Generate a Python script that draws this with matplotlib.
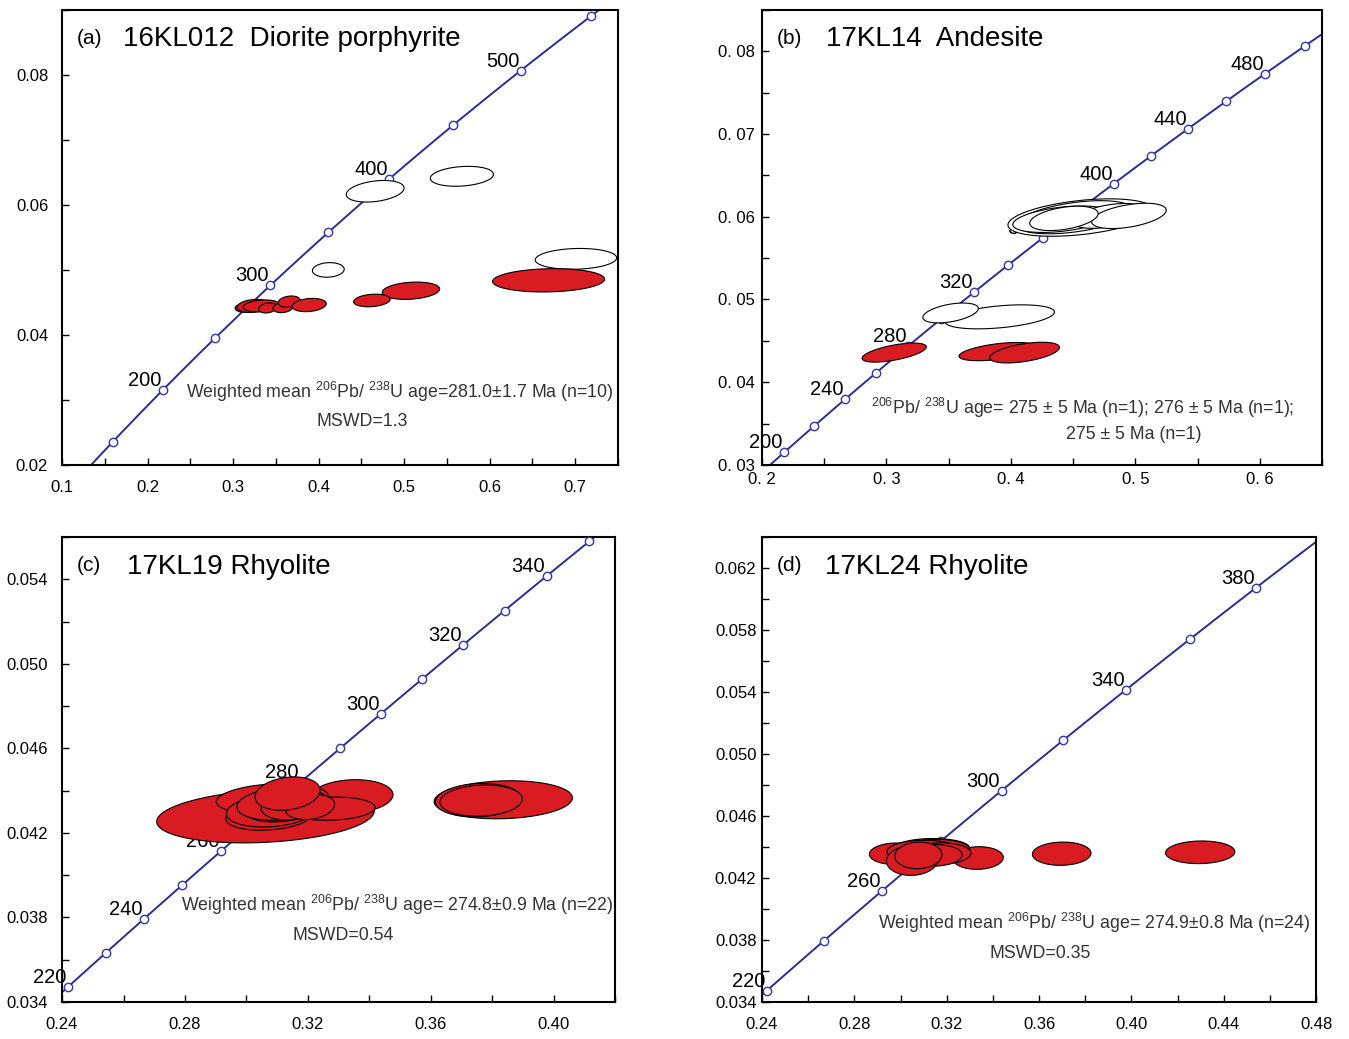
import numpy as np
import matplotlib
matplotlib.use("Agg")
import matplotlib.pyplot as plt
from matplotlib.ticker import MultipleLocator
from matplotlib.patches import Polygon

plt.rcParams['font.family'] = ['Liberation Sans', 'DejaVu Sans']
plt.rcParams['mathtext.default'] = 'regular'

# decay constants (per Ma) for the concordia curve
LAM238 = 1.55125e-4
LAM235 = 9.8485e-4

# ---- panel (a) 16KL012 ----
a_marks = [150, 200, 250, 300, 350, 400, 450, 500, 550]
a_labels = [200, 300, 400, 500]
a_xt = [0.1, 0.2, 0.3, 0.4, 0.5, 0.6, 0.7]
a_xtl = ['0.1', '0.2', '0.3', '0.4', '0.5', '0.6', '0.7']
a_yt = [0.02, 0.04, 0.06, 0.08]
a_ytl = ['0.02', '0.04', '0.06', '0.08']
a_cx = [0.4662, 0.5676, 0.4114, 0.701, 0.669, 0.508, 0.4624, 0.3167, 0.3238, 0.3333, 0.3405, 0.3586, 0.3657, 0.389]
a_cy = [0.0621, 0.0644, 0.0500, 0.0517, 0.0484, 0.0468, 0.0453, 0.04425, 0.04446, 0.04446, 0.04415, 0.04425, 0.04512, 0.0446]
a_sx = [0.0338, 0.0369, 0.0186, 0.0476, 0.0655, 0.0336, 0.0214, 0.0143, 0.019, 0.0214, 0.0105, 0.0119, 0.0129, 0.020]
a_sy = [0.00166, 0.00153, 0.00112, 0.0016, 0.00179, 0.00133, 0.00097, 0.00077, 0.001, 0.00092, 0.00077, 0.00082, 0.00087, 0.00102]
a_rho = [0.3, 0.2, 0.1, 0.1, 0.1, 0.2, 0.2, 0.2, 0.2, 0.2, 0.2, 0.2, 0.2, 0.2]
a_fill = [0, 0, 0, 0, 1, 1, 1, 1, 1, 1, 1, 1, 1, 1]

# ---- panel (b) 17KL14 ----
b_marks = [200, 220, 240, 260, 280, 300, 320, 340, 360, 380, 400, 420, 440, 460, 480, 500]
b_labels = [200, 240, 280, 320, 360, 400, 440, 480]
b_xt = [0.2, 0.3, 0.4, 0.5, 0.6]
b_xtl = ['0. 2', '0. 3', '0. 4', '0. 5', '0. 6']
b_yt = [0.03, 0.04, 0.05, 0.06, 0.07, 0.08]
b_ytl = ['0. 03', '0. 04', '0. 05', '0. 06', '0. 07', '0. 08']
b_cx = [0.3062, 0.3893, 0.411, 0.391, 0.3515, 0.456, 0.4512, 0.441, 0.4787, 0.4948, 0.4426]
b_cy = [0.04358, 0.0437, 0.04358, 0.0479, 0.04837, 0.0599, 0.05994, 0.0597, 0.0601, 0.0601, 0.0598]
b_sx = [0.0258, 0.031, 0.028, 0.044, 0.0223, 0.0584, 0.0464, 0.0395, 0.0292, 0.030, 0.0275]
b_sy = [0.00115, 0.0011, 0.00125, 0.00145, 0.0012, 0.00226, 0.002, 0.0016, 0.0015, 0.00153, 0.00147]
b_rho = [0.6, 0.5, 0.5, 0.4, 0.45, 0.4, 0.45, 0.4, 0.45, 0.45, 0.4]
b_fill = [1, 1, 1, 0, 0, 0, 0, 0, 0, 0, 0]

# ---- panel (c) 17KL19 ----
c_marks = [220, 230, 240, 250, 260, 270, 280, 290, 300, 310, 320, 330, 340, 350]
c_labels = [220, 240, 260, 280, 300, 320, 340]
c_xt = [0.24, 0.28, 0.32, 0.36, 0.40]
c_xtl = ['0.24', '0.28', '0.32', '0.36', '0.40']
c_yt = [0.034, 0.038, 0.042, 0.046, 0.050, 0.054]
c_ytl = ['0.034', '0.038', '0.042', '0.046', '0.050', '0.054']
c_cx = [0.3062, 0.3836, 0.3755, 0.3764, 0.3342, 0.3273, 0.3081, 0.3075, 0.3084, 0.3115, 0.3128, 0.3141, 0.3115, 0.3154, 0.3207, 0.3134]
c_cy = [0.04279, 0.04357, 0.04355, 0.04353, 0.04373, 0.04315, 0.04362, 0.0428, 0.04307, 0.04335, 0.04347, 0.04357, 0.04339, 0.04331, 0.04323, 0.04386]
c_sx = [0.0354, 0.0225, 0.014, 0.0134, 0.0135, 0.0146, 0.0179, 0.0142, 0.0149, 0.0132, 0.0136, 0.0126, 0.0146, 0.0106, 0.008, 0.0106]
c_sy = [0.00126, 0.0009, 0.00079, 0.00074, 0.00079, 0.00055, 0.00071, 0.00067, 0.00079, 0.00083, 0.00075, 0.0007, 0.00079, 0.0007, 0.0006, 0.00079]
c_rho = [0.2, 0.1, 0.1, 0.1, 0.1, 0.1, 0.2, 0.2, 0.2, 0.2, 0.2, 0.2, 0.2, 0.2, 0.2, 0.2]

# ---- panel (d) 17KL24 ----
d_marks = [220, 240, 260, 280, 300, 320, 340, 360, 380, 400]
d_labels = [220, 260, 300, 340, 380]
d_xt = [0.24, 0.28, 0.32, 0.36, 0.40, 0.44, 0.48]
d_xtl = ['0.24', '0.28', '0.32', '0.36', '0.40', '0.44', '0.48']
d_yt = [0.034, 0.038, 0.042, 0.046, 0.050, 0.054, 0.058, 0.062]
d_ytl = ['0.034', '0.038', '0.042', '0.046', '0.050', '0.054', '0.058', '0.062']
d_cx = [0.4298, 0.3698, 0.3336, 0.2976, 0.3133, 0.3151, 0.3114, 0.3096, 0.317, 0.3142, 0.305, 0.3077]
d_cy = [0.04366, 0.04357, 0.04329, 0.04357, 0.0439, 0.04379, 0.04368, 0.04374, 0.04357, 0.04346, 0.04314, 0.04346]
d_sx = [0.015, 0.0127, 0.0109, 0.0111, 0.0166, 0.015, 0.0138, 0.0155, 0.0135, 0.0125, 0.0111, 0.0102]
d_sy = [0.00073, 0.00075, 0.00073, 0.00069, 0.00065, 0.0007, 0.00072, 0.0007, 0.0007, 0.0007, 0.00097, 0.00086]
d_rho = [0.05] * 12

RED = '#d81c22'
BLUE = '#2c2c94'


def conc(age):
    return np.exp(LAM235 * age) - 1, np.exp(LAM238 * age) - 1


def draw_panel(ax, marks, labels, xt, xtl, yt, ytl, xlim, ylim, xminor, yminor,
               cx, cy, sx, sy, rho, fill, xpad, ypad):
    ages = np.linspace(100, 700, 600)
    x, y = conc(ages)
    ax.plot(x, y, color=BLUE, lw=1.4, zorder=2)
    mx, my = conc(np.array(marks, dtype=float))
    ax.plot(mx, my, 'o', ms=6, mfc='white', mec='#3535b0', mew=1.0, zorder=3)
    for a in labels:
        px, py = conc(a)
        ax.annotate(str(a), (px, py), xytext=(-1, 0), textcoords='offset points',
                    ha='right', va='bottom', fontsize=14.5, zorder=3)
    t = np.linspace(0, 2 * np.pi, 120)
    for i in range(len(cx)):
        ex = cx[i] + sx[i] * np.cos(t)
        ey = cy[i] + sy[i] * (rho[i] * np.cos(t) + np.sqrt(1 - rho[i] ** 2) * np.sin(t))
        fc = RED if fill[i] else 'white'
        ax.add_patch(Polygon(np.column_stack([ex, ey]), closed=True, fc=fc,
                             ec='black', lw=0.8, zorder=4 + i * 0.01))
    ax.set_xlim(xlim)
    ax.set_ylim(ylim)
    ax.set_xticks(xt)
    ax.set_xticklabels(xtl)
    ax.set_yticks(yt)
    ax.set_yticklabels(ytl)
    ax.xaxis.set_minor_locator(MultipleLocator(xminor))
    ax.yaxis.set_minor_locator(MultipleLocator(yminor))
    ax.tick_params(which='both', direction='in', length=5, width=1, labelsize=12,
                   top=False, right=False)
    ax.tick_params(axis='x', pad=xpad)
    ax.tick_params(axis='y', pad=ypad)
    for s in ax.spines.values():
        s.set_linewidth(1.5)


fig = plt.figure(figsize=(13.49, 10.39), dpi=100)
axa = fig.add_axes([0.046, 0.5525, 0.412, 0.438])
axb = fig.add_axes([0.5649, 0.5525, 0.4151, 0.438])
axc = fig.add_axes([0.046, 0.0356, 0.41, 0.4475])
axd = fig.add_axes([0.5649, 0.0356, 0.4107, 0.4475])

draw_panel(axa, a_marks, a_labels, a_xt, a_xtl, a_yt, a_ytl, (0.1, 0.75), (0.02, 0.09), 0.05, 0.01,
           a_cx, a_cy, a_sx, a_sy, a_rho, a_fill, 11, 10)
draw_panel(axb, b_marks, b_labels, b_xt, b_xtl, b_yt, b_ytl, (0.2, 0.65), (0.03, 0.085), 0.05, 0.005,
           b_cx, b_cy, b_sx, b_sy, b_rho, b_fill, 5, 5)
draw_panel(axc, c_marks, c_labels, c_xt, c_xtl, c_yt, c_ytl, (0.24, 0.42), (0.034, 0.056), 0.02, 0.002,
           c_cx, c_cy, c_sx, c_sy, c_rho, [1] * len(c_cx), 11, 10)
draw_panel(axd, d_marks, d_labels, d_xt, d_xtl, d_yt, d_ytl, (0.24, 0.48), (0.034, 0.064), 0.02, 0.002,
           d_cx, d_cy, d_sx, d_sy, d_rho, [1] * len(d_cx), 11, 4)

# panel titles
titles = [(axa, '(a)', '16KL012  Diorite porphyrite', 0.110),
          (axb, '(b)', '17KL14  Andesite', 0.114),
          (axc, '(c)', '17KL19 Rhyolite', 0.118),
          (axd, '(d)', '17KL24 Rhyolite', 0.114)]
for ax, tag, name, tx in titles:
    ax.text(0.027, 0.938, tag, transform=ax.transAxes, fontsize=15, va='center', zorder=6)
    ax.text(tx, 0.936, name, transform=ax.transAxes, fontsize=20, va='center', zorder=6)

# age annotations
gray = '#333333'
fs = 12.8
axa.text(0.608, 0.160, r'Weighted mean $^{206}$Pb/ $^{238}$U age=281.0±1.7 Ma (n=10)',
         transform=axa.transAxes, ha='center', va='center', fontsize=fs, color=gray)
axa.text(0.54, 0.095, 'MSWD=1.3', transform=axa.transAxes, ha='center', va='center',
         fontsize=fs, color=gray)
axb.text(0.573, 0.125, r'$^{206}$Pb/ $^{238}$U age= 275 ± 5 Ma (n=1); 276 ± 5 Ma (n=1);',
         transform=axb.transAxes, ha='center', va='center', fontsize=fs, color=gray)
axb.text(0.664, 0.068, '275 ± 5 Ma (n=1)', transform=axb.transAxes, ha='center', va='center',
         fontsize=fs, color=gray)
axc.text(0.606, 0.209, r'Weighted mean $^{206}$Pb/ $^{238}$U age= 274.8±0.9 Ma (n=22)',
         transform=axc.transAxes, ha='center', va='center', fontsize=fs, color=gray)
axc.text(0.508, 0.144, 'MSWD=0.54', transform=axc.transAxes, ha='center', va='center',
         fontsize=fs, color=gray)
axd.text(0.60, 0.17, r'Weighted mean $^{206}$Pb/ $^{238}$U age= 274.9±0.8 Ma (n=24)',
         transform=axd.transAxes, ha='center', va='center', fontsize=fs, color=gray)
axd.text(0.502, 0.105, 'MSWD=0.35', transform=axd.transAxes, ha='center', va='center',
         fontsize=fs, color=gray)

fig.savefig('out.png', dpi=100, facecolor='white')
